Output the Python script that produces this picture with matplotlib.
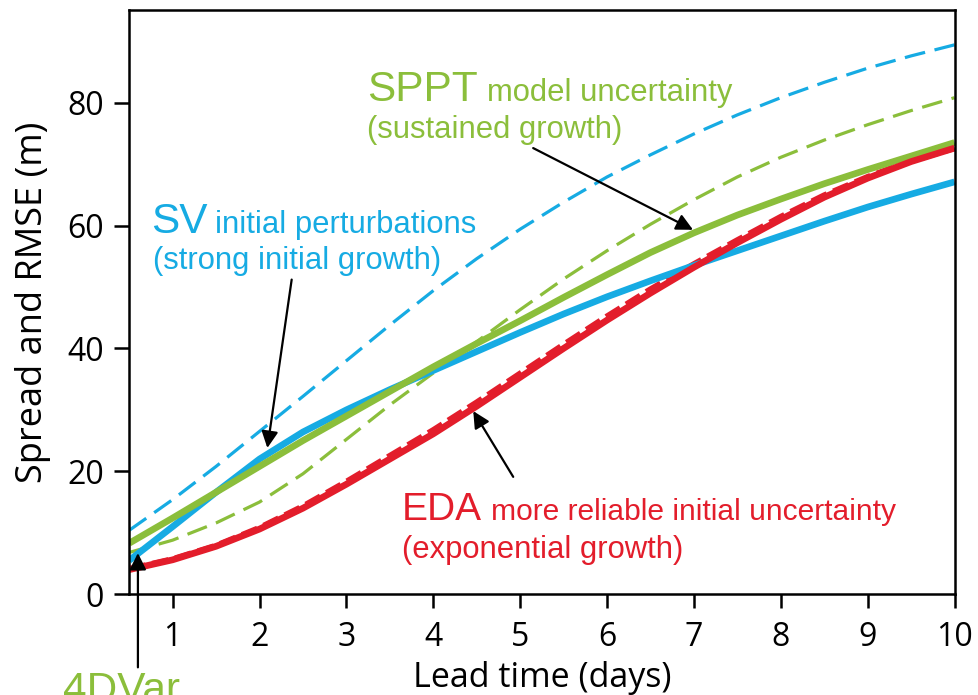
import numpy as np
import matplotlib
matplotlib.use("Agg")
import matplotlib.pyplot as plt

plt.rcParams['font.family'] = ['Open Sans', 'DejaVu Sans']
plt.rcParams['lines.scale_dashes'] = False

# lead time (days) and spread / RMSE values (m)
lead = [0.5, 1, 1.5, 2, 2.5, 3, 3.5, 4, 4.5, 5, 5.5, 6, 6.5, 7, 7.5, 8, 8.5, 9, 9.5, 10]

sv_spread = [5.5, 11.0, 16.6, 22.0, 26.4, 30.0, 33.3, 36.4, 39.5, 42.6, 45.6, 48.4,
             51.0, 53.5, 55.9, 58.3, 60.7, 63.0, 65.1, 67.1]
sv_rmse = [10.4, 15.4, 20.8, 26.5, 32.2, 38.0, 43.8, 49.4, 54.6, 59.4, 63.8, 67.9,
           71.5, 74.9, 78.0, 80.8, 83.3, 85.6, 87.6, 89.4]

sppt_spread = [8.3, 12.4, 16.6, 20.8, 25.0, 29.0, 33.0, 37.0, 40.8, 44.5, 48.3, 52.0,
               55.6, 58.8, 61.7, 64.3, 66.8, 69.1, 71.3, 73.5]
sppt_rmse = [6.8, 8.8, 11.6, 15.0, 19.6, 25.2, 30.8, 36.0, 41.1, 46.3, 51.3, 55.9,
             60.2, 64.2, 67.9, 71.1, 73.9, 76.4, 78.7, 80.8]

eda_spread = [4.0, 5.6, 7.8, 10.6, 14.0, 17.9, 22.0, 26.1, 30.6, 35.3, 40.0, 44.6,
              49.0, 53.2, 57.2, 61.0, 64.6, 67.7, 70.4, 72.6]
eda_rmse = [4.1, 5.7, 7.9, 10.8, 14.3, 18.3, 22.5, 26.7, 31.2, 35.9, 40.6, 45.2,
            49.6, 53.7, 57.6, 61.4, 64.9, 67.9, 70.5, 72.6]

blue = '#16ABE3'
green = '#8BBE3B'
red = '#E31D2B'

fig = plt.figure(figsize=(9.79, 6.95), dpi=100)
ax = fig.add_axes([0.132, 0.145, 0.843, 0.840])

# dashed = RMSE, solid = spread
ax.plot(lead, sv_rmse, color=blue, lw=2.3, dashes=(15, 7))
ax.plot(lead, sppt_rmse, color=green, lw=2.3, dashes=(15, 7))
ax.plot(lead, eda_rmse, color=red, lw=4.4, dashes=(12, 5))
ax.plot(lead, sv_spread, color=blue, lw=4.8, solid_capstyle='butt')
ax.plot(lead, sppt_spread, color=green, lw=4.8, solid_capstyle='butt')
ax.plot(lead, eda_spread, color=red, lw=4.8, solid_capstyle='butt')

ax.set_xlim(0.5, 10)
ax.set_ylim(0, 95)
ax.set_xticks(range(1, 11))
ax.set_yticks([0, 20, 40, 60, 80])
ax.tick_params(direction='out', length=11, width=1.8, labelsize=23, pad=7)
ax.tick_params(axis='x', length=10, pad=9)
for s in ax.spines.values():
    s.set_linewidth(1.8)

ax.set_xlabel('Lead time (days)', fontsize=24.5, labelpad=5)
ax.set_ylabel('Spread and RMSE (m)', fontsize=26, labelpad=12)

# annotations
lab = ['Liberation Sans', 'DejaVu Sans']
big, small = 30.5, 22.3
ax.text(0.75, 58.8, 'SV', color=blue, fontsize=big, family=lab, va='baseline')
ax.text(1.49, 58.8, 'initial perturbations', color=blue, fontsize=small, family=lab, va='baseline')
ax.text(0.77, 52.9, '(strong initial growth)', color=blue, fontsize=small, family=lab, va='baseline')

ax.text(3.24, 80.2, 'SPPT', color=green, fontsize=big, family=lab, va='baseline')
ax.text(4.62, 80.2, 'model uncertainty', color=green, fontsize=small, family=lab, va='baseline')
ax.text(3.24, 74.3, '(sustained growth)', color=green, fontsize=small, family=lab, va='baseline')

ax.text(3.64, 12.1, 'EDA', color=red, fontsize=28, family=lab, va='baseline')
ax.text(4.66, 12.1, 'more reliable initial uncertainty', color=red, fontsize=21.6, family=lab, va='baseline')
ax.text(3.64, 5.9, '(exponential growth)', color=red, fontsize=small, family=lab, va='baseline')

arrow = dict(arrowstyle='-|>', color='black', lw=1.6, mutation_scale=25, shrinkA=0, shrinkB=0)
ax.annotate('', xy=(2.09, 23.8), xytext=(2.37, 51.2), arrowprops=arrow)
ax.annotate('', xy=(6.99, 59.3), xytext=(5.15, 72.6), arrowprops=arrow)
ax.annotate('', xy=(4.46, 29.8), xytext=(4.92, 19.1), arrowprops=arrow)
ax.annotate('', xy=(0.6, 6.7), xytext=(0.6, -11.9), arrowprops=arrow, annotation_clip=False)

fig.text(0.064, -0.01, '4DVar', color=green, fontsize=big, family=lab, va='baseline')

fig.savefig('out.png', dpi=100)
